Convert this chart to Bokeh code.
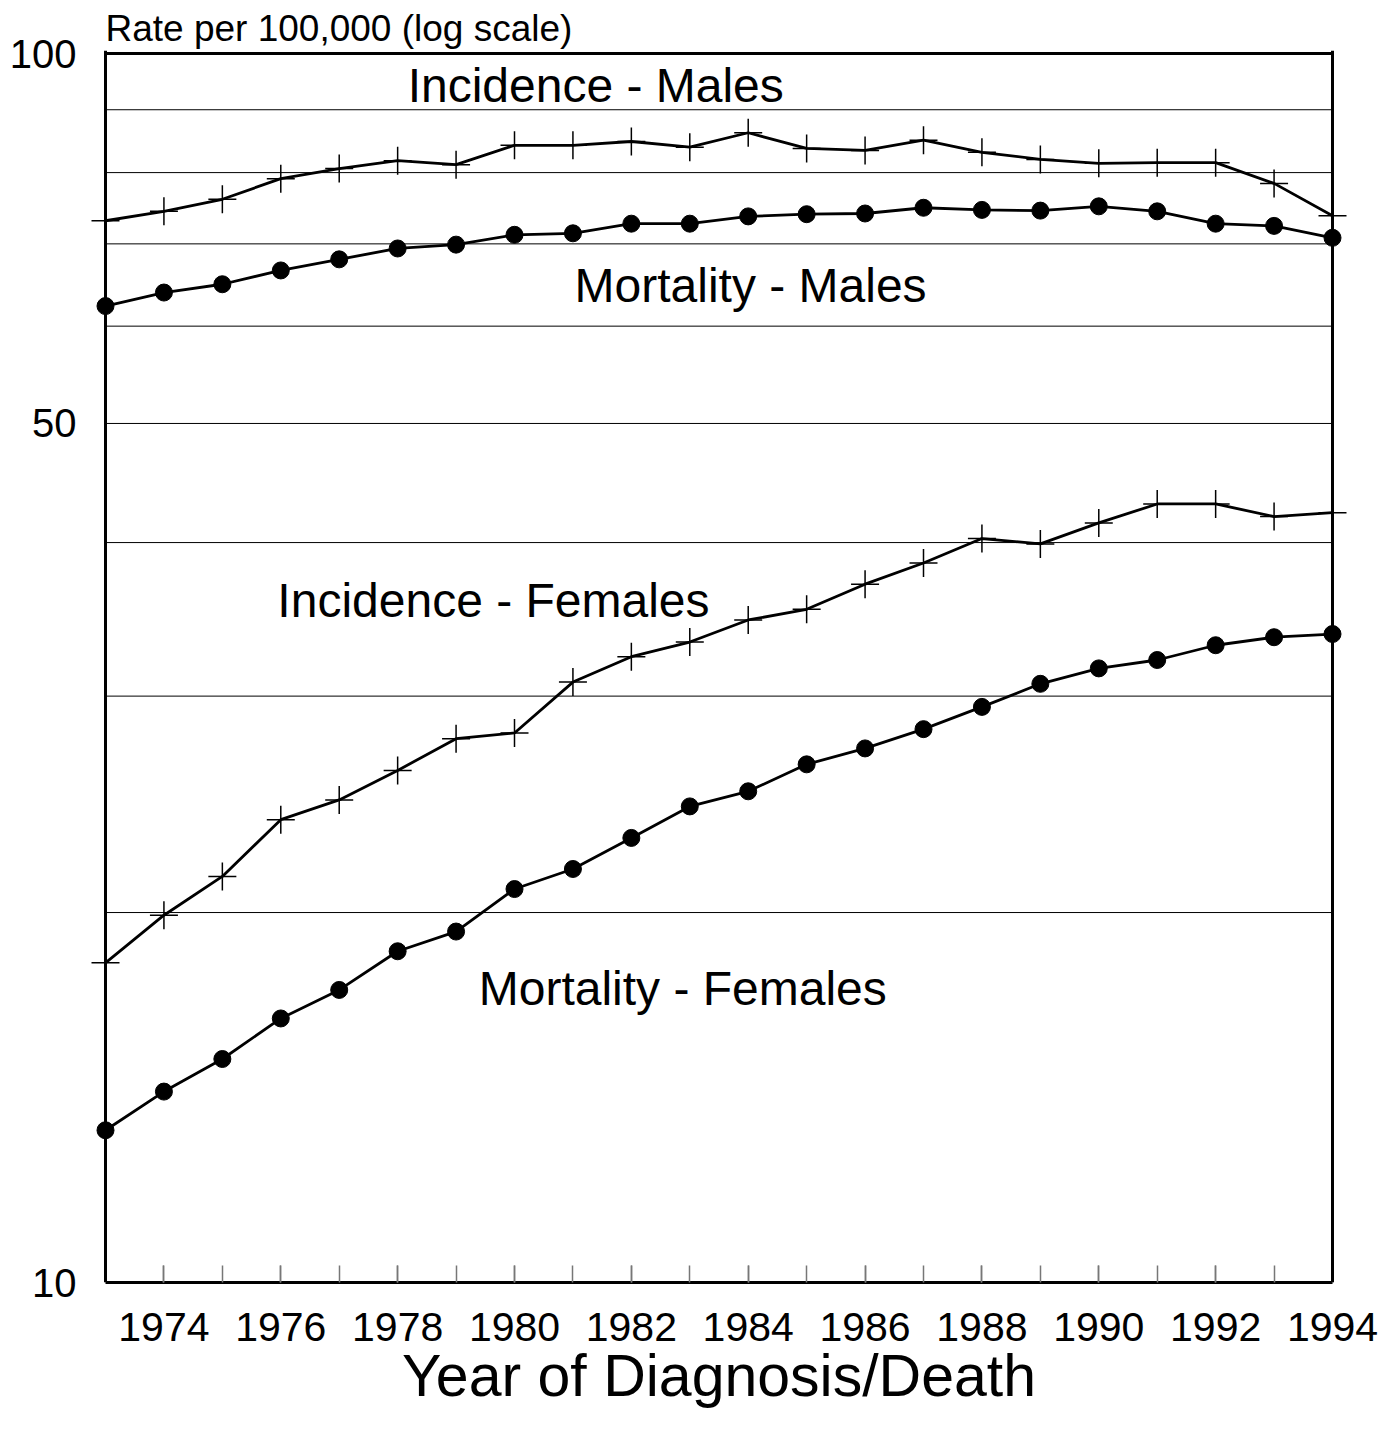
from bokeh.plotting import figure
from bokeh.models import Range1d, FixedTicker, ColumnDataSource, Span
from bokeh.embed import file_html
from bokeh.resources import INLINE
from bokeh.core.properties import value

years = list(range(1973, 1995))
incidence_males = [73.1, 74.4, 76.1, 79.1, 80.6, 81.8, 81.2, 84.2, 84.2, 84.8, 83.9,
                   86.2, 83.7, 83.4, 85.0, 83.1, 82.0, 81.4, 81.5, 81.5, 78.4, 73.8]
mortality_males = [62.3, 63.9, 64.9, 66.6, 68.0, 69.4, 69.9, 71.2, 71.4, 72.7, 72.7,
                   73.7, 74.0, 74.1, 74.9, 74.6, 74.5, 75.1, 74.4, 72.7, 72.4, 70.8]
incidence_females = [18.2, 19.9, 21.4, 23.8, 24.7, 26.1, 27.7, 28.0, 30.8, 32.3, 33.2,
                     34.6, 35.3, 37.0, 38.5, 40.3, 39.9, 41.5, 43.0, 43.0, 42.0, 42.3]
mortality_females = [13.3, 14.3, 15.2, 16.4, 17.3, 18.6, 19.3, 20.9, 21.7, 23.0, 24.4,
                     25.1, 26.4, 27.2, 28.2, 29.4, 30.7, 31.6, 32.1, 33.0, 33.5, 33.7]
series_names = ["Incidence - Males", "Mortality - Males",
                "Incidence - Females", "Mortality - Females"]
y_tick_values = [10, 50, 100]
y_grid_values = [20, 30, 40, 50, 60, 70, 80, 90]
x_label_years = list(range(1974, 1995, 2))
x_minor_years = list(range(1974, 1994))

FONT = "Liberation Sans"
X0, X1 = years[0], years[-1]
Y0, Y1 = 10, 100

# plot area: 21 years over 1227 px; extra room on both sides so edge markers are not clipped
PX_PER_YEAR = 1227 / (X1 - X0)
PAD_PX = 18
pad = PAD_PX / PX_PER_YEAR
TOP_PAD_PX = 3
top_pad = 10 ** (TOP_PAD_PX / 1229)

p = figure(
    output_backend="svg", toolbar_location=None,
    y_axis_type="log",
    x_range=Range1d(X0 - pad, X1 + pad), y_range=Range1d(Y0, Y1 * top_pad),
    frame_width=1227 + 2 * PAD_PX, frame_height=1229 + TOP_PAD_PX,
    min_border_left=87, min_border_right=28, min_border_top=50, min_border_bottom=145,
    title="Rate per 100,000 (log scale)",
)
p.background_fill_color = "white"
p.border_fill_color = "white"
p.outline_line_color = None

p.title.text_font = FONT
p.title.text_font_size = "37px"
p.title.text_font_style = "normal"
p.title.text_color = "black"
p.title.align = "left"
p.title.standoff = 4
p.title.offset = PAD_PX

# grids: horizontal lines only within the plot box
p.xgrid.grid_line_color = None
p.ygrid.grid_line_color = None
p.segment(x0=[X0] * len(y_grid_values), y0=y_grid_values,
          x1=[X1] * len(y_grid_values), y1=y_grid_values,
          line_color="black", line_width=1)

# y axis (line drawn as a span at the first year)
p.yaxis.ticker = FixedTicker(ticks=y_tick_values)
p.yaxis.major_label_overrides = {t: str(t) for t in y_tick_values}
p.yaxis.major_tick_line_color = None
p.yaxis.minor_tick_line_color = None
p.yaxis.axis_line_color = None
p.yaxis.major_label_text_font = FONT
p.yaxis.major_label_text_font_size = "40px"
p.yaxis.major_label_text_color = "black"
p.yaxis.major_label_standoff = 5

# x axis
p.xaxis.ticker = FixedTicker(ticks=x_label_years, minor_ticks=x_minor_years)
p.xaxis.major_label_overrides = {t: str(t) for t in x_label_years}
p.xaxis.bounds = (X0, X1)
p.xaxis.axis_line_width = 3
p.xaxis.axis_line_color = "black"
p.xaxis.major_tick_in = 17
p.xaxis.major_tick_out = 0
p.xaxis.minor_tick_in = 17
p.xaxis.minor_tick_out = 0
p.xaxis.major_tick_line_color = "#777777"
p.xaxis.minor_tick_line_color = "#777777"
p.xaxis.major_tick_line_width = 1.5
p.xaxis.minor_tick_line_width = 1.5
p.xaxis.major_label_text_font = FONT
p.xaxis.major_label_text_font_size = "41px"
p.xaxis.major_label_text_color = "black"
p.xaxis.major_label_standoff = 30
p.xaxis.axis_label = "Year of Diagnosis/Death"
p.xaxis.axis_label_text_font = FONT
p.xaxis.axis_label_text_font_size = "59px"
p.xaxis.axis_label_text_font_style = "normal"
p.xaxis.axis_label_text_color = "black"
p.xaxis.axis_label_standoff = -1

# box borders: left, right, top
p.add_layout(Span(location=X0, dimension="height", line_color="black", line_width=3))
p.add_layout(Span(location=X1, dimension="height", line_color="black", line_width=3))
p.segment(x0=[X0], y0=[Y1], x1=[X1], y1=[Y1], line_color="black", line_width=3)

# series
for vals in (incidence_males, incidence_females):
    src = ColumnDataSource(dict(x=years, y=vals))
    p.line("x", "y", source=src, line_color="black", line_width=2.8)
    p.scatter("x", "y", source=src, marker="cross", size=28,
              line_color="black", line_width=1.5)
for vals in (mortality_males, mortality_females):
    src = ColumnDataSource(dict(x=years, y=vals))
    p.line("x", "y", source=src, line_color="black", line_width=2.8)
    p.scatter("x", "y", source=src, marker="circle", size=17,
              fill_color="black", line_color="black")

# series labels (placed near their curves)
label_x = [1981.39, 1984.04, 1979.64, 1982.88]
label_y = [94.2, 64.8, 35.9, 17.35]
p.text(x=label_x, y=label_y, text=series_names,
       text_font=value(FONT), text_font_size="48px",
       text_align="center", text_baseline="middle", text_color="black")

open("out.html", "w").write(file_html(p, INLINE))
